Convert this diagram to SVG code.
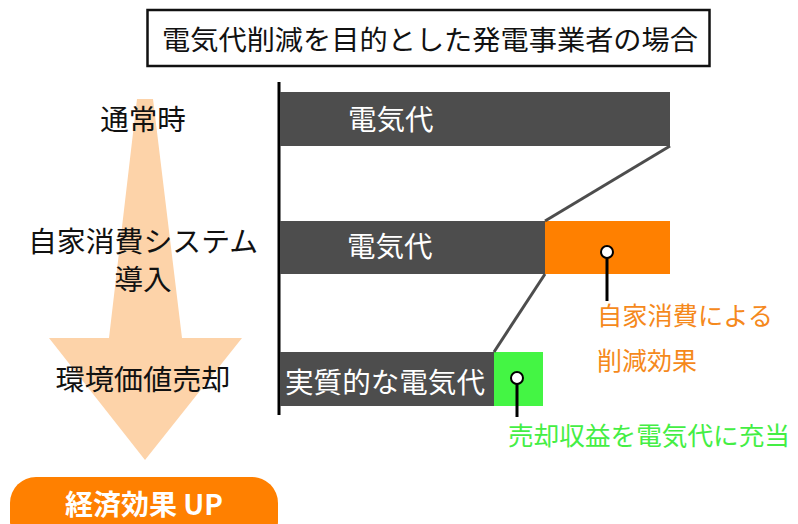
<svg xmlns="http://www.w3.org/2000/svg" width="798" height="524" viewBox="0 0 798 524">
<style>
text{font-family:"Noto Sans CJK JP","Noto Sans",sans-serif;}
.lbl{font-size:28.5px;fill:#111;text-anchor:middle;}
.bar{fill:#4d4d4d;}
.wt{font-size:28.5px;fill:#fff;}
.conn{stroke:#4d4d4d;stroke-width:3;fill:none;}
.lead{stroke:#000;stroke-width:3;fill:none;}
.dot{fill:#fff;stroke:#000;stroke-width:2;}
</style>
<rect width="798" height="524" fill="#fff"/>
<g id="title">
<rect x="147.5" y="10" width="562" height="56" fill="#fff" stroke="#111" stroke-width="2.5"/>
<text x="162" y="50" font-size="27" fill="#111" textLength="536" lengthAdjust="spacingAndGlyphs">電気代削減を目的とした発電事業者の場合</text>
</g>
<g id="big-arrow">
<polygon points="137,99 153,99 182,338 242,338 145,460 49,338 109,338" fill="#fdd3a9"/>
</g>
<g id="stage-labels">
<text class="lbl" x="143" y="130">通常時</text>
<text class="lbl" x="143" y="252" textLength="230" lengthAdjust="spacingAndGlyphs">自家消費システム</text>
<text class="lbl" x="143" y="290">導入</text>
<text class="lbl" x="143" y="390" textLength="175" lengthAdjust="spacingAndGlyphs">環境価値売却</text>
</g>
<g id="result">
<rect x="10" y="477" width="268" height="70" rx="26" fill="#ff8000"/>
<text x="144" y="515" font-size="28" font-weight="bold" fill="#fff" text-anchor="middle">経済効果 UP</text>
</g>
<g id="axis">
<line x1="279" y1="82" x2="279" y2="415" stroke="#000" stroke-width="3"/>
</g>
<g id="bar1">
<rect class="bar" x="280" y="92" width="390" height="54"/>
<text class="wt" x="348" y="130">電気代</text>
</g>
<g id="bar2">
<rect class="bar" x="280" y="221" width="265" height="53"/>
<rect x="545" y="221" width="125" height="53" fill="#ff8000"/>
<text class="wt" x="347" y="257">電気代</text>
</g>
<g id="bar3">
<rect class="bar" x="280" y="352" width="214" height="54"/>
<rect x="494" y="352" width="49" height="54" fill="#44f544"/>
<text class="wt" x="285" y="393" textLength="200" lengthAdjust="spacingAndGlyphs">実質的な電気代</text>
</g>
<g id="connectors">
<line class="conn" x1="670" y1="146" x2="545" y2="221"/>
<line class="conn" x1="545" y1="274" x2="494" y2="352"/>
<line class="lead" x1="607" y1="252" x2="607" y2="301"/>
<line class="lead" x1="517" y1="378" x2="517" y2="417"/>
</g>
<g id="dot-orange"><circle class="dot" cx="607" cy="252" r="6"/></g>
<g id="dot-green"><circle class="dot" cx="517" cy="378" r="6"/></g>
<g id="note-orange">
<text x="597" y="325" font-size="25" fill="#f5891c" textLength="176" lengthAdjust="spacingAndGlyphs">自家消費による</text>
<text x="597" y="370" font-size="25" fill="#f5891c">削減効果</text>
</g>
<g id="note-green">
<text x="508" y="445" font-size="25.5" fill="#44ee44" textLength="282" lengthAdjust="spacingAndGlyphs">売却収益を電気代に充当</text>
</g>
</svg>
